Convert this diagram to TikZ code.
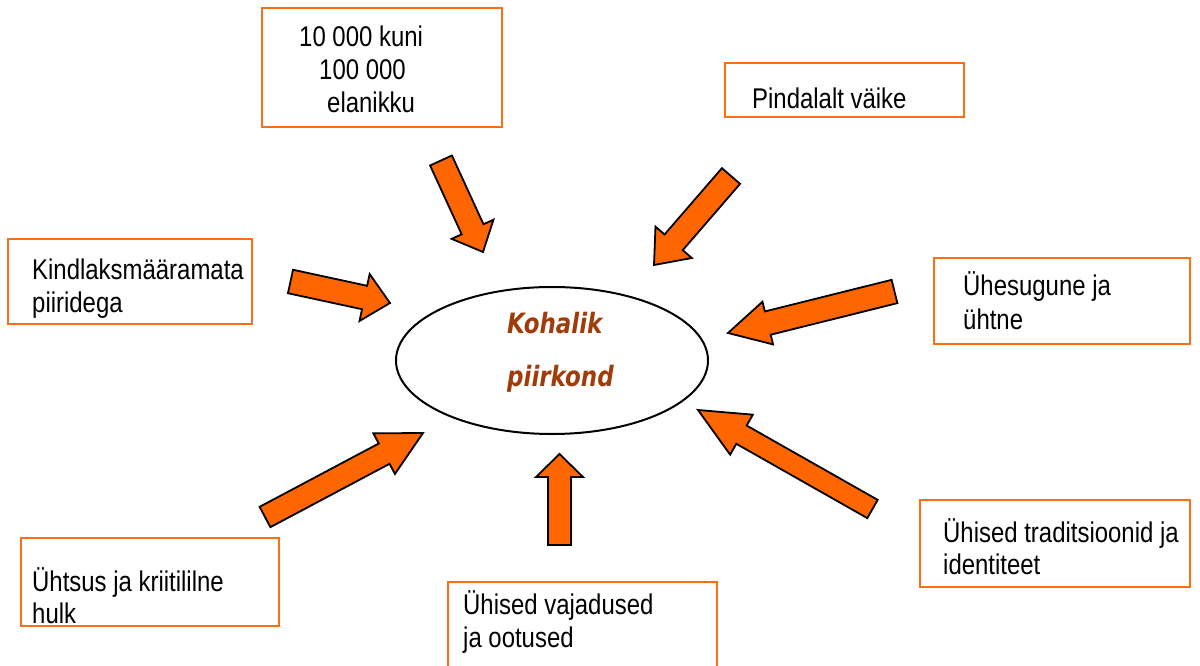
\documentclass[tikz,border=0pt]{standalone}
\usepackage{fontspec}
\usetikzlibrary{calc,shapes.geometric}
\newfontfamily\boxfont{Liberation Sans}[FakeStretch=0.84]
\newfontfamily\centerfont{DejaVu Sans}[FakeStretch=0.82]
\definecolor{boxorange}{RGB}{255,110,20}
\definecolor{arroworange}{RGB}{255,102,0}
\definecolor{titlebrown}{RGB}{160,60,10}
\newcommand\blockarrow[6]{%
  \coordinate (#1b) at ($(#3)!#6!(#2)$);
  \draw[arrowstyle] ($(#2)!#4!90:(#3)$) -- ($(#1b)!#4!-90:(#2)$) -- ($(#1b)!#5!-90:(#2)$)
    -- (#3) -- ($(#1b)!#5!90:(#2)$) -- ($(#1b)!#4!90:(#2)$) -- ($(#2)!#4!-90:(#3)$) -- cycle;
}
\tikzset{
  boxstyle/.style={draw=boxorange, line width=2.5pt, inner sep=0pt, rectangle},
  boxtext/.style={anchor=base west, align=left, inner sep=0pt, text=black,
    font=\boxfont\fontsize{28.5}{#1}\selectfont},
  boxtext/.default=33,
  arrowstyle/.style={fill=arroworange, draw=black, line width=1.8pt, line join=miter},
}
\begin{document}
\begin{tikzpicture}[x=1pt,y=-1pt]
\useasboundingbox (0,0) rectangle (1200,666);
% central ellipse
\node[draw, line width=2pt, ellipse, minimum width=312pt, minimum height=147pt, inner sep=0pt] (c) at (552,360.5) {};
\node[anchor=base west, align=left, inner sep=0pt, text=titlebrown,
  font=\centerfont\bfseries\itshape\fontsize{28}{53}\selectfont] (ct) at (507,386) {Kohalik\\piirkond};
% boxes
\node[boxstyle, minimum width=240pt, minimum height=119pt] (b1) at (382,67.5) {};
\node[boxstyle, minimum width=239pt, minimum height=54pt] (b2) at (844.5,90) {};
\node[boxstyle, minimum width=244pt, minimum height=85pt] (b3) at (130,281.5) {};
\node[boxstyle, minimum width=256pt, minimum height=86pt] (b4) at (1062,301) {};
\node[boxstyle, minimum width=270pt, minimum height=87pt] (b5) at (1055,543.5) {};
\node[boxstyle, minimum width=258pt, minimum height=88pt] (b6) at (150,582) {};
\node[boxstyle, minimum width=269pt, minimum height=88pt] (b7) at (582.5,626) {};
% texts (anchor = baseline of the last line)
\node[boxtext] (t1) at (299,113) {10 000 kuni\\\hspace*{20pt}100 000\\\hspace*{28pt}elanikku};
\node[boxtext] (t2) at (752,109) {Pindalalt väike};
\node[boxtext] (t3) at (32,312) {Kindlaksmääramata\\piiridega};
\node[boxtext=34] (t4) at (963,329) {Ühesugune ja\\ühtne};
\node[boxtext=32] (t5) at (943,574) {Ühised traditsioonid ja\\identiteet};
\node[boxtext=32] (t6) at (32,623) {Ühtsus ja kriitililne\\hulk};
\node[boxtext=33] (t7) at (463,647) {Ühised vajadused\\ja ootused};
% arrow end points
\coordinate (a1t) at (441,160.5); \coordinate (a1h) at (483,252);
\coordinate (a2t) at (731,176);   \coordinate (a2h) at (654,265);
\coordinate (a3t) at (290.5,281.5); \coordinate (a3h) at (390,303);
\coordinate (a4t) at (894.5,291.5); \coordinate (a4h) at (728,333);
\coordinate (a5t) at (872.5,509); \coordinate (a5h) at (698,410);
\coordinate (a6t) at (559.5,545); \coordinate (a6h) at (559.5,454);
\coordinate (a7t) at (265,517);   \coordinate (a7h) at (423,433);
\blockarrow{a1}{a1t}{a1h}{12pt}{23pt}{25pt}
\blockarrow{a2}{a2t}{a2h}{12pt}{24pt}{30pt}
\blockarrow{a3}{a3t}{a3h}{12pt}{24pt}{26pt}
\blockarrow{a4}{a4t}{a4h}{12pt}{22pt}{41pt}
\blockarrow{a5}{a5t}{a5h}{10.5pt}{23pt}{50pt}
\blockarrow{a6}{a6t}{a6h}{11.5pt}{23.5pt}{23pt}
\blockarrow{a7}{a7t}{a7h}{11.5pt}{23pt}{44pt}
\end{tikzpicture}
\end{document}
